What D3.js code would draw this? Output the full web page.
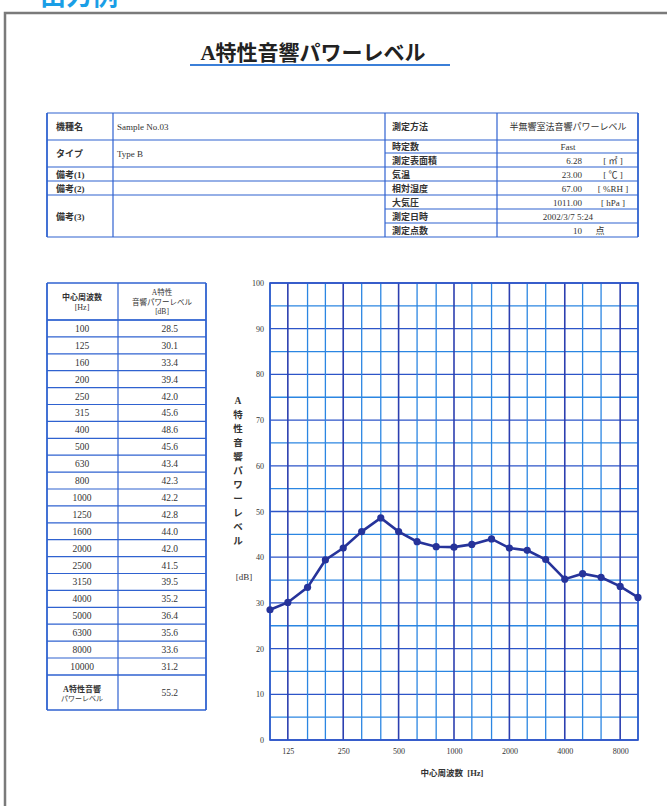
<!DOCTYPE html>
<html>
<head>
<meta charset="utf-8">
<script src="https://cdn.jsdelivr.net/npm/d3@7"></script>
<style>
  body { margin: 0; background: #fff; }
  svg { display: block; }
  text { font-family: "Liberation Serif", "Noto Sans CJK JP", serif; }
</style>
</head>
<body>
<svg class="chart" width="667" height="806"></svg>
<script>
// 1/3オクターブ中心周波数とレベル
const freqs = [100, 125, 160, 200, 250, 315, 400, 500, 630, 800, 1000, 1250, 1600, 2000, 2500, 3150, 4000, 5000, 6300, 8000, 10000];
const levels = [28.5, 30.1, 33.4, 39.4, 42.0, 45.6, 48.6, 45.6, 43.4, 42.3, 42.2, 42.8, 44.0, 42.0, 41.5, 39.5, 35.2, 36.4, 35.6, 33.6, 31.2];
const overall = 55.2;
const xTickLabels = [125, 250, 500, 1000, 2000, 4000, 8000];
const yTickLabels = [0, 10, 20, 30, 40, 50, 60, 70, 80, 90, 100];
const yGrid = [0, 5, 10, 15, 20, 25, 30, 35, 40, 45, 50, 55, 60, 65, 70, 75, 80, 85, 90, 95, 100];

// 上の情報テーブル
const infoLeftLabels = ["機種名", "タイプ", "備考(1)", "備考(2)", "備考(3)"];
const infoLeftValues = ["Sample No.03", "Type B", "", "", ""];
const infoRightLabels = ["測定方法", "時定数", "測定表面積", "気温", "相対湿度", "大気圧", "測定日時", "測定点数"];
const infoRightValues = ["半無響室法音響パワーレベル", "Fast", "6.28", "23.00", "67.00", "1011.00", "2002/3/7 5:24", "10"];
const infoRightUnits = ["", "", "[ ㎡ ]", "[ ℃ ]", "[ %RH ]", "[ hPa ]", "", "点"];

const svg = d3.select(".chart");
const blue = "#2f62d0";
const navy = "#2c3a9e";
const ink = "#333";

// 外枠
svg.append("path")
  .attr("d", "M5,806 L5,13 L667,13")
  .attr("fill", "none")
  .attr("stroke", "#7a7a7a")
  .attr("stroke-width", 2.5);

// 見出し（上で切れている）
svg.append("text")
  .attr("x", 40).attr("y", 5)
  .attr("font-family", "Noto Sans CJK JP")
  .attr("font-weight", "bold")
  .attr("font-size", 26)
  .attr("fill", "#1a9ee6")
  .text("出力例");

// タイトル
svg.append("text")
  .attr("x", 313).attr("y", 60)
  .attr("text-anchor", "middle")
  .attr("font-family", "Noto Sans CJK JP")
  .attr("font-weight", "bold")
  .attr("font-size", 21)
  .attr("fill", "#222")
  .text("A特性音響パワーレベル");
svg.append("line")
  .attr("x1", 190).attr("x2", 450).attr("y1", 65).attr("y2", 65)
  .attr("stroke", "#3b7fd8").attr("stroke-width", 2);

// ---- 情報テーブル ----
const info = svg.append("g");
const tColX = [47, 113, 385, 497, 638];
const leftRowsY = [113, 140, 167, 181, 195, 237];
const rightRowsY = [113, 140, 153, 167, 181, 195, 209, 223, 237];

function hline(g, x1, x2, y, w) {
  g.append("line").attr("x1", x1).attr("x2", x2).attr("y1", y).attr("y2", y)
    .attr("stroke", blue).attr("stroke-width", w || 1.2);
}
function vline(g, x, y1, y2, w) {
  g.append("line").attr("x1", x).attr("x2", x).attr("y1", y1).attr("y2", y2)
    .attr("stroke", blue).attr("stroke-width", w || 1.2);
}

leftRowsY.forEach(y => hline(info, tColX[0], tColX[2], y));
rightRowsY.forEach(y => hline(info, tColX[2], tColX[4], y));
tColX.forEach((x, i) => vline(info, x, 113, 237, (i === 0 || i === 4) ? 1.8 : 1.2));

infoLeftLabels.forEach((d, i) => {
  const yc = (leftRowsY[i] + leftRowsY[i + 1]) / 2;
  info.append("text").attr("x", 56).attr("y", yc + 3.5)
    .attr("font-size", 9).attr("fill", ink).attr("font-weight", "bold").text(d);
  info.append("text").attr("x", 117).attr("y", yc + 3.5)
    .attr("font-size", 9).attr("fill", ink).text(infoLeftValues[i]);
});

infoRightLabels.forEach((d, i) => {
  const yc = (rightRowsY[i] + rightRowsY[i + 1]) / 2;
  info.append("text").attr("x", 392).attr("y", yc + 3.5)
    .attr("font-size", 9).attr("fill", ink).attr("font-weight", "bold").text(d);
  const v = infoRightValues[i];
  const u = infoRightUnits[i];
  if (u === "" ) {
    info.append("text").attr("x", 568).attr("y", yc + 3.5)
      .attr("text-anchor", "middle").attr("font-size", 9).attr("fill", ink).text(v);
  } else {
    info.append("text").attr("x", 582).attr("y", yc + 3.5)
      .attr("text-anchor", "end").attr("font-size", 9).attr("fill", ink).text(v);
    info.append("text").attr("x", u === "点" ? 600 : 613).attr("y", yc + 3.5)
      .attr("text-anchor", "middle").attr("font-size", 9).attr("fill", ink)
      .attr("xml:space", "preserve").text(u);
  }
});

// ---- 数値テーブル ----
const tbl = svg.append("g");
const cX = [47, 118, 206];
const headTop = 283, headBot = 320, rowH = 16.9;
const rowY = freqs.map((d, i) => headBot + i * rowH);
const lastY = headBot + freqs.length * rowH;
const tblBot = 710;

hline(tbl, cX[0], cX[2], headTop, 1.5);
hline(tbl, cX[0], cX[2], headBot, 1.5);
rowY.forEach(y => hline(tbl, cX[0], cX[2], y));
hline(tbl, cX[0], cX[2], lastY, 1.5);
hline(tbl, cX[0], cX[2], tblBot, 1.5);
cX.forEach((x, i) => vline(tbl, x, headTop, tblBot, i === 1 ? 1.2 : 1.8));

tbl.append("text").attr("x", 82).attr("y", 300).attr("text-anchor", "middle")
  .attr("font-size", 8).attr("font-weight", "bold").attr("fill", ink).text("中心周波数");
tbl.append("text").attr("x", 82).attr("y", 310).attr("text-anchor", "middle")
  .attr("font-size", 8).attr("fill", ink).text("[Hz]");
["A特性", "音響パワーレベル", "[dB]"].forEach((t, i) => {
  tbl.append("text").attr("x", 162).attr("y", 295 + i * 9.5).attr("text-anchor", "middle")
    .attr("font-size", 7.5).attr("fill", ink).text(t);
});

freqs.forEach((f, i) => {
  const yc = rowY[i] + rowH / 2 + 3.5;
  tbl.append("text").attr("x", 82).attr("y", yc).attr("text-anchor", "middle")
    .attr("font-size", 9.5).attr("fill", ink).text(f);
  tbl.append("text").attr("x", 178).attr("y", yc).attr("text-anchor", "end")
    .attr("font-size", 9.5).attr("fill", ink).text(levels[i].toFixed(1));
});
tbl.append("text").attr("x", 82).attr("y", 692).attr("text-anchor", "middle")
  .attr("font-size", 8).attr("font-weight", "bold").attr("fill", ink).text("A特性音響");
tbl.append("text").attr("x", 82).attr("y", 701).attr("text-anchor", "middle")
  .attr("font-size", 7).attr("fill", ink).text("パワーレベル");
tbl.append("text").attr("x", 178).attr("y", 696).attr("text-anchor", "end")
  .attr("font-size", 9.5).attr("fill", ink).text(overall.toFixed(1));

// ---- グラフ ----
const plot = { left: 270, right: 638, top: 283, bottom: 740 };
const x = d3.scaleLog().domain([100, 10000]).range([plot.left, plot.right]);
const y = d3.scaleLinear().domain([0, 100]).range([plot.bottom, plot.top]);

const grid = svg.append("g");
grid.selectAll(".hg").data(yGrid).join("line")
  .attr("x1", plot.left).attr("x2", plot.right)
  .attr("y1", d => y(d)).attr("y2", d => y(d))
  .attr("stroke", d => d % 10 === 0 ? "#2d55c8" : "#2b86e2")
  .attr("stroke-width", 1.3);
grid.selectAll(".vg").data(freqs).join("line")
  .attr("x1", d => x(d)).attr("x2", d => x(d))
  .attr("y1", plot.top).attr("y2", plot.bottom)
  .attr("stroke", d => xTickLabels.includes(d) ? "#2c3fb0" : "#2b86e2")
  .attr("stroke-width", d => xTickLabels.includes(d) ? 1.6 : 1.3);
grid.append("rect")
  .attr("x", plot.left).attr("y", plot.top)
  .attr("width", plot.right - plot.left).attr("height", plot.bottom - plot.top)
  .attr("fill", "none").attr("stroke", "#2d55c8").attr("stroke-width", 1.6);

// 軸ラベル
const yAxis = d3.axisLeft(y).tickValues(yTickLabels).tickSize(0).tickPadding(6);
svg.append("g").attr("transform", `translate(${plot.left},0)`).call(yAxis)
  .call(g => g.select(".domain").remove())
  .selectAll("text").attr("font-size", 8).attr("fill", ink)
  .attr("font-family", "Liberation Serif");

const xAxis = d3.axisBottom(x).tickValues(xTickLabels).tickSize(0).tickPadding(8)
  .tickFormat(d3.format("d"));
svg.append("g").attr("transform", `translate(0,${plot.bottom})`).call(xAxis)
  .call(g => g.select(".domain").remove())
  .selectAll("text").attr("font-size", 8).attr("fill", ink)
  .attr("font-family", "Liberation Serif");

svg.append("text").attr("x", 452).attr("y", 776).attr("text-anchor", "middle")
  .attr("font-size", 8.5).attr("fill", ink).attr("font-weight", "bold")
  .attr("xml:space", "preserve").text("中心周波数  [Hz]");

const yTitle = Array.from("A特性音響パワーレベル");
svg.append("g").selectAll("text").data(yTitle).join("text")
  .attr("x", 238).attr("y", (d, i) => 404 + i * 14)
  .attr("text-anchor", "middle").attr("font-size", 9.5)
  .attr("font-weight", "bold").attr("fill", ink)
  .text(d => d);
svg.append("text").attr("x", 244).attr("y", 580).attr("text-anchor", "middle")
  .attr("font-size", 9).attr("fill", ink).text("[dB]");

// 折れ線
const line = d3.line().x((d, i) => x(freqs[i])).y(d => y(d));
svg.append("path").datum(levels)
  .attr("d", line)
  .attr("fill", "none")
  .attr("stroke", "#26339a")
  .attr("stroke-width", 2.6);
svg.append("g").selectAll("circle").data(levels).join("circle")
  .attr("cx", (d, i) => x(freqs[i]))
  .attr("cy", d => y(d))
  .attr("r", 3.6)
  .attr("fill", "#26339a");
</script>
</body>
</html>
